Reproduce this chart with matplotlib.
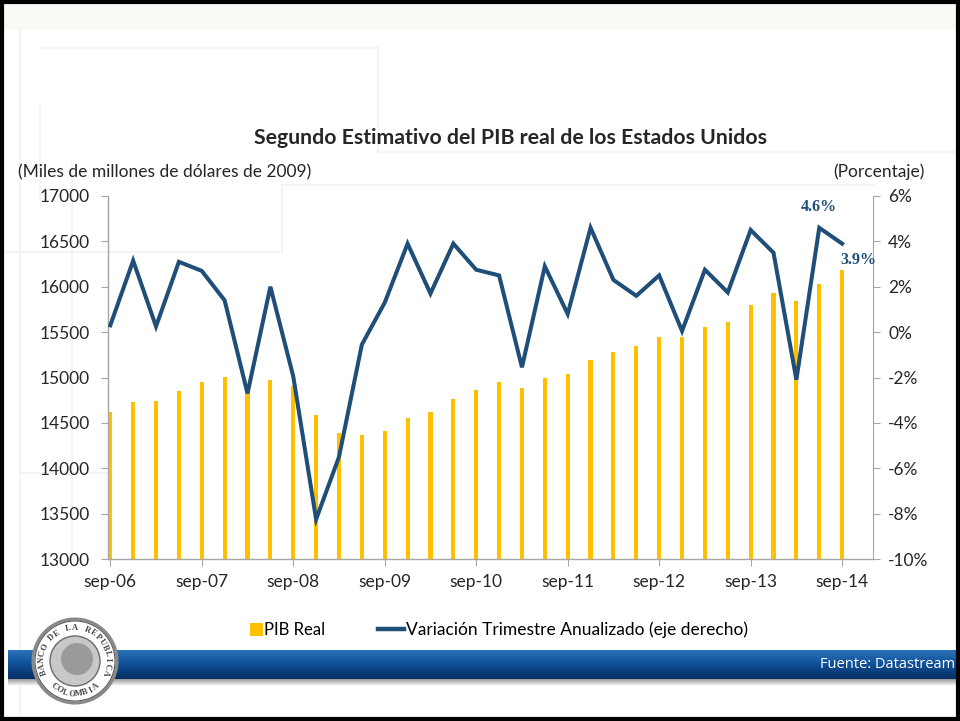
import numpy as np
import matplotlib
matplotlib.use("Agg")
import matplotlib.pyplot as plt
from matplotlib.patches import Rectangle, Circle, Patch
from matplotlib.lines import Line2D

plt.rcParams['font.family'] = ['Lato', 'DejaVu Sans']

# ---------------- data ----------------
quarters = ["sep-06", "dic-06", "mar-07", "jun-07", "sep-07", "dic-07", "mar-08", "jun-08",
            "sep-08", "dic-08", "mar-09", "jun-09", "sep-09", "dic-09", "mar-10", "jun-10",
            "sep-10", "dic-10", "mar-11", "jun-11", "sep-11", "dic-11", "mar-12", "jun-12",
            "sep-12", "dic-12", "mar-13", "jun-13", "sep-13", "dic-13", "mar-14", "jun-14",
            "sep-14"]
pib_real = [14617, 14727, 14741, 14851, 14954, 15005, 14840, 14976,
            14903, 14587, 14385, 14366, 14410, 14557, 14617, 14763,
            14859, 14954, 14888, 14998, 15035, 15196, 15284, 15350,
            15446, 15450, 15553, 15615, 15799, 15928, 15846, 16027,
            16181]
variacion = [0.3, 3.15, 0.25, 3.1, 2.7, 1.4, -2.7, 2.0,
             -1.95, -8.25, -5.5, -0.55, 1.3, 3.9, 1.7, 3.9,
             2.75, 2.5, -1.55, 2.9, 0.8, 4.6, 2.3, 1.6,
             2.5, 0.05, 2.75, 1.75, 4.5, 3.5, -2.1, 4.6,
             3.9]
xtick_labels = ["sep-06", "sep-07", "sep-08", "sep-09", "sep-10",
                "sep-11", "sep-12", "sep-13", "sep-14"]
left_ticks = [13000, 13500, 14000, 14500, 15000, 15500, 16000, 16500, 17000]
right_ticks = [-10, -8, -6, -4, -2, 0, 2, 4, 6]

BAR_C = "#FFC000"
LINE_C = "#1F4E79"
TXT_C = "#262626"
SPINE_C = "#A6A6A6"

W, H = 960, 721
fig = plt.figure(figsize=(W / 100, H / 100), dpi=100)
fig.patch.set_facecolor("white")

# ---------------- background decoration (figure pixel coords) ----------------
bg = fig.add_axes([0, 0, 1, 1], zorder=0)
bg.set_xlim(0, W)
bg.set_ylim(H, 0)
bg.axis("off")
bg.add_patch(Rectangle((0, 0), W, 30, color="#F9F9F6", lw=0))
deco = "#F2F2F2"
for xs, ys in [((20, 20), (30, 715)), ((40, 378), (48, 48)), ((378, 378), (48, 152)),
               ((378, 960), (152, 152)), ((40, 40), (107, 200)), ((72, 72), (160, 560)),
               ((0, 282), (252, 252)), ((282, 282), (185, 252)), ((282, 873), (185, 185)),
               ((20, 108), (473, 473))]:
    bg.plot(xs, ys, color=deco, lw=1.2)

# ---------------- main chart ----------------
ax = fig.add_axes([108 / W, 1 - 559 / H, (873 - 108) / W, (559 - 196) / H], zorder=2)
ax.set_facecolor("none")
x = np.arange(len(quarters))
bars = ax.bar(x, pib_real, width=0.18, color=BAR_C, zorder=2)
ax.set_ylim(13000, 17000)
ax.set_xlim(-0.1, 33.35)
ax.set_yticks(left_ticks)
ax.set_yticklabels([str(v) for v in left_ticks])
ax.set_xticks(x[::4])
ax.set_xticklabels(xtick_labels)
for s in ["top", "right"]:
    ax.spines[s].set_visible(False)
for s in ["left", "bottom"]:
    ax.spines[s].set_color(SPINE_C)
    ax.spines[s].set_linewidth(1)
ax.tick_params(axis="y", direction="out", length=5, color=SPINE_C, labelsize=12.5,
               labelcolor=TXT_C, pad=8)
ax.tick_params(axis="x", direction="out", length=5, color=SPINE_C, labelsize=12.5,
               labelcolor=TXT_C, pad=6)

ax2 = ax.twinx()
ax2.set_ylim(-10, 6)
line, = ax2.plot(x, variacion, color=LINE_C, lw=2.9, solid_joinstyle="miter", zorder=3)
ax2.set_yticks(right_ticks)
ax2.set_yticklabels([f"{v}%" for v in right_ticks])
for s in ["top", "left", "bottom"]:
    ax2.spines[s].set_visible(False)
ax2.spines["right"].set_color(SPINE_C)
ax2.tick_params(axis="y", direction="out", length=5, color=SPINE_C, labelsize=12.5,
                labelcolor=TXT_C, pad=6)

# data labels
ax2.annotate(f"{variacion[31]:.1f}%", (x[31], variacion[31]), xytext=(0, 9),
             textcoords="offset points", ha="center", va="bottom",
             fontsize=11.5, fontweight="bold", color=LINE_C, family="Liberation Serif")
ax2.annotate(f"{variacion[32]:.1f}%", (x[32], variacion[32]), xytext=(12, -6),
             textcoords="offset points", ha="center", va="top",
             fontsize=11.5, fontweight="bold", color=LINE_C, family="Liberation Serif")

# titles / axis captions
fig.text(510 / W, 1 - 138 / H, "Segundo Estimativo del PIB real de los Estados Unidos",
         ha="center", va="center", fontsize=15.3, fontweight="bold", color=TXT_C)
fig.text(18 / W, 1 - 172 / H, "(Miles de millones de dólares de 2009)",
         ha="left", va="center", fontsize=12.5, color=TXT_C)
fig.text(925 / W, 1 - 172 / H, "(Porcentaje)",
         ha="right", va="center", fontsize=12.5, color=TXT_C)

# legends
h_bar = Patch(facecolor=BAR_C, edgecolor="none")
h_line = Line2D([0], [0], color=LINE_C, lw=3.2)
fig.legend([h_bar], ["PIB Real"], loc="center left", bbox_to_anchor=(250 / W, 1 - 630 / H),
           frameon=False, fontsize=12, handlelength=0.75, handleheight=0.85,
           handletextpad=0.1, borderpad=0, borderaxespad=0)
fig.legend([h_line], ["Variación Trimestre Anualizado (eje derecho)"], loc="center left",
           bbox_to_anchor=(378 / W, 1 - 630 / H), frameon=False, fontsize=12.5,
           handlelength=1.5, handletextpad=0.12, borderpad=0, borderaxespad=0)

# ---------------- footer band and logo ----------------
ov = fig.add_axes([0, 0, 1, 1], zorder=3)
ov.set_xlim(0, W)
ov.set_ylim(H, 0)
ov.axis("off")
ov.patch.set_alpha(0)
grad = np.linspace(0, 1, 64).reshape(-1, 1)
cmap = matplotlib.colors.LinearSegmentedColormap.from_list("band", ["#2A72BA", "#0E4F96", "#082F62"])
ov.imshow(grad, extent=[8, W, 679, 650], cmap=cmap, aspect="auto", zorder=1)
sh = matplotlib.colors.LinearSegmentedColormap.from_list("sh", ["#9A9A9A", "#FFFFFF"])
ov.imshow(grad, extent=[8, W, 686, 679], cmap=sh, aspect="auto", zorder=1)
ov.text(955, 665, "Fuente: Datastream", color="white", ha="right", va="center",
        fontsize=10.5, family="Open Sans")

cx, cy = 75, 661
ov.add_patch(Circle((cx, cy), 42, facecolor="white", edgecolor="#8A8A8A", lw=2.2, zorder=4))
ov.add_patch(Circle((cx, cy), 40, facecolor="none", edgecolor="#5A5A5A", lw=0.8, zorder=4))
ov.add_patch(Circle((cx, cy), 25, facecolor="#C8C8C8", edgecolor="#6A6A6A", lw=1.0, zorder=4))
ov.add_patch(Circle((cx + 2, cy - 2), 16, facecolor="#9A9A9A", edgecolor="none", zorder=4))
top_txt = "BANCO DE LA REPUBLICA"
angs = np.linspace(200, -20, len(top_txt))
for ch, a in zip(top_txt, angs):
    r = 33
    px = cx + r * np.cos(np.radians(a))
    py = cy - r * np.sin(np.radians(a))
    ov.text(px, py, ch, rotation=a - 90, ha="center", va="center", fontsize=6,
            fontweight="bold", color="#444444", family="Liberation Serif", zorder=5)
bot_txt = "COLOMBIA"
angs = np.linspace(230, 310, len(bot_txt))
for ch, a in zip(bot_txt, angs):
    r = 33
    px = cx + r * np.cos(np.radians(a))
    py = cy - r * np.sin(np.radians(a))
    ov.text(px, py, ch, rotation=a + 90, ha="center", va="center", fontsize=6,
            fontweight="bold", color="#444444", family="Liberation Serif", zorder=5)

# frame border
fig.add_artist(Rectangle((0.002, 0.003), 0.996, 0.994, transform=fig.transFigure,
                         fill=False, edgecolor="black", lw=3, zorder=10))

fig.savefig("out.png", dpi=100)
